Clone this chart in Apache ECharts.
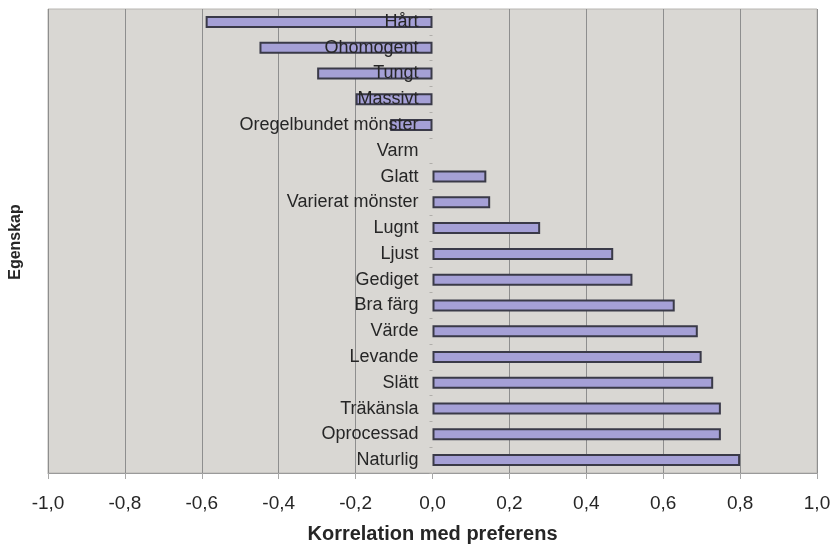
<!DOCTYPE html>
<html>
<head>
<meta charset="utf-8">
<script src="https://cdn.jsdelivr.net/npm/echarts@6/dist/echarts.min.js"></script>
<style>
  html, body { margin: 0; padding: 0; background: #ffffff; }
  #chart { width: 833px; height: 546px; }
</style>
</head>
<body>
<div id="chart"></div>
<script>
// Properties (top to bottom) and their correlation with preference
const categories = [
  'Hårt', 'Ohomogent', 'Tungt', 'Massivt', 'Oregelbundet mönster', 'Varm',
  'Glatt', 'Varierat mönster', 'Lugnt', 'Ljust', 'Gediget', 'Bra färg',
  'Värde', 'Levande', 'Slätt', 'Träkänsla', 'Oprocessad', 'Naturlig'
];
const correlations = [
  -0.59, -0.45, -0.30, -0.20, -0.11, 0.0,
  0.14, 0.15, 0.28, 0.47, 0.52, 0.63,
  0.69, 0.70, 0.73, 0.75, 0.75, 0.80
];
const xTicks = [-1.0, -0.8, -0.6, -0.4, -0.2, 0.0, 0.2, 0.4, 0.6, 0.8, 1.0];

const xTitle = 'Korrelation med preferens';
const yTitle = 'Egenskap';

const FONT = '"Liberation Sans", Arial, Helvetica, sans-serif';
const TEXT = '#262626';
const PLOT_BG = '#d9d7d3';
const GRID_LINE = '#8e8e8e';
const BAR_FILL = '#a5a0d6';
const BAR_EDGE = '#3a3a48';

// grid lines at every tick except the zero line, which carries the category axis
const splitColors = xTicks.map(v => (Math.abs(v) < 1e-9 ? PLOT_BG : GRID_LINE));

// a zero correlation draws no bar at all (no outline either)
const barData = correlations.map(v => ({
  value: v,
  itemStyle: v === 0 ? { borderWidth: 0, opacity: 0 } : undefined
}));

// category names sit just left of the zero line, drawn over the bars
const nameAnchors = categories.map(c => [0, c]);

const chart = echarts.init(document.getElementById('chart'), null, { renderer: 'canvas' });

chart.setOption({
  animation: false,
  backgroundColor: '#ffffff',
  grid: {
    left: 48, right: 16, top: 9, bottom: 73,
    containLabel: false,
    outerBoundsMode: 'none',
    show: true,
    backgroundColor: PLOT_BG,
    borderColor: '#b8b6b2',
    borderWidth: 1
  },
  xAxis: {
    type: 'value',
    min: xTicks[0],
    max: xTicks[xTicks.length - 1],
    interval: 0.2,
    name: xTitle,
    nameLocation: 'middle',
    nameGap: 51,
    nameTextStyle: { fontFamily: FONT, fontSize: 20, fontWeight: 'bold', color: TEXT },
    axisLine: { show: true, onZero: false, lineStyle: { color: '#9a9a9a', width: 1 } },
    axisTick: { show: true, length: 6, lineStyle: { color: '#a8a8a8' } },
    axisLabel: {
      margin: 21,
      fontFamily: FONT, fontSize: 19, color: TEXT,
      formatter: v => v.toFixed(1).replace('.', ',')
    },
    splitLine: { show: true, lineStyle: { color: splitColors, width: 1 } }
  },
  yAxis: {
    type: 'category',
    data: categories,
    inverse: true,
    axisLine: { show: true, onZero: true, lineStyle: { color: 'rgba(0,0,0,0)' } },
    axisTick: { show: true, length: 3, lineStyle: { color: '#b0aeaa' } },
    axisLabel: { show: false },
    splitLine: { show: false }
  },
  graphic: [{
    type: 'text',
    x: 16,
    y: 242,
    rotation: Math.PI / 2,
    style: {
      text: yTitle,
      fontFamily: FONT, fontSize: 16, fontWeight: 'bold', fill: TEXT,
      align: 'center', verticalAlign: 'middle'
    }
  }],
  series: [{
    type: 'bar',
    data: barData,
    barWidth: 12,
    itemStyle: { color: BAR_FILL, borderColor: BAR_EDGE, borderWidth: 2 }
  }, {
    type: 'scatter',
    data: nameAnchors,
    symbolSize: 0,
    z: 5,
    silent: true,
    itemStyle: { opacity: 1 },
    label: {
      show: true,
      position: 'left',
      distance: 14,
      formatter: p => p.value[1],
      fontFamily: FONT, fontSize: 18, color: TEXT, opacity: 1
    }
  }]
});
</script>
</body>
</html>
